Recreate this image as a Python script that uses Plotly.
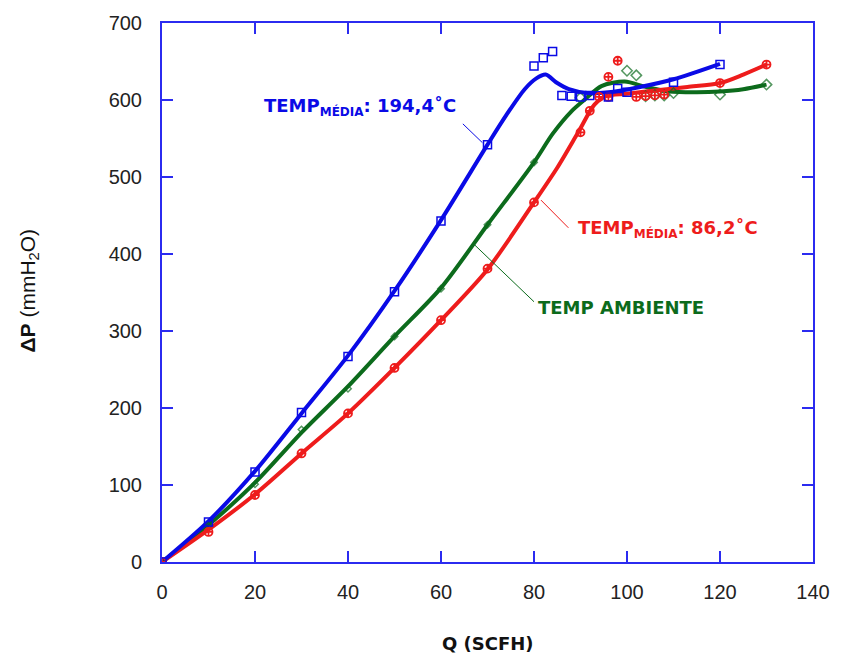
import plotly.graph_objects as go

# ---- data ----
# smooth (measured) curves
q_blue_curve = [0, 10, 20, 30, 40, 50, 60, 70, 74, 78, 80.5, 82.5, 85, 87.5, 91.5, 96, 102, 110, 120]
dp_blue_curve = [0, 53, 118, 193, 268, 352, 444, 542, 580, 614, 628, 633, 622, 614, 609, 610, 616, 627, 647]

q_red_curve = [0, 10, 20, 30, 40, 50, 60, 70, 80, 85, 89.5, 93, 95.5, 100, 107, 113, 120, 125, 130]
dp_red_curve = [0, 42, 88, 141, 193, 252, 314, 380, 467, 512, 558, 594, 605, 608, 613, 617, 622, 633, 646]

q_green_curve = [0, 10, 20, 30, 40, 50, 60, 70, 80, 84, 88, 91, 94.5, 99.5, 104, 109, 115, 120, 125, 130]
dp_green_curve = [0, 48, 103, 168, 228, 293, 356, 438, 519, 556, 585, 601, 618, 624, 617, 611, 610, 611, 614, 620]

# discrete points
q_blue_pts = [0, 10, 20, 30, 40, 50, 60, 70, 80, 82, 84, 86, 88, 90, 92, 96, 98, 100, 110, 120]
dp_blue_pts = [0, 52, 117, 194, 267, 351, 443, 542, 644, 655, 663, 606, 605, 604, 606, 604, 615, 610, 623, 646]

q_red_pts = [0, 10, 20, 30, 40, 50, 60, 70, 80, 90, 92, 94, 96, 96, 98, 102, 104, 106, 108, 120, 130]
dp_red_pts = [0, 39, 87, 141, 193, 252, 314, 381, 467, 558, 586, 604, 630, 604, 651, 604, 605, 606, 607, 622, 646]

q_green_pts = [0, 10, 20, 30, 40, 50, 60, 70, 80, 90, 100, 102, 104, 106, 108, 110, 120, 130]
dp_green_pts = [0, 47, 101, 172, 225, 293, 355, 438, 519, 603, 638, 632, 605, 606, 606, 609, 607, 620]

x_ticks = [0, 20, 40, 60, 80, 100, 120, 140]
y_ticks = [0, 100, 200, 300, 400, 500, 600, 700]

BLUE = "#0a0ae6"
RED = "#ee1c1c"
GREEN = "#0c6b1c"
AXIS = "#2b2bf0"

fig = go.Figure()

for q, dp, col in [(q_green_curve, dp_green_curve, GREEN),
                   (q_red_curve, dp_red_curve, RED),
                   (q_blue_curve, dp_blue_curve, BLUE)]:
    fig.add_trace(go.Scatter(x=q, y=dp, mode="lines",
                             line=dict(color=col, width=4, shape="spline", smoothing=0.8),
                             showlegend=False, hoverinfo="skip"))

green_sizes = [5 if q <= 80 else 8 for q in q_green_pts]
fig.add_trace(go.Scatter(x=q_green_pts, y=dp_green_pts, mode="markers",
                         marker=dict(symbol="diamond-open", size=green_sizes, color=GREEN, line=dict(width=1.5)),
                         showlegend=False))
fig.add_trace(go.Scatter(x=q_red_pts, y=dp_red_pts, mode="markers",
                         marker=dict(symbol="circle-cross-open", size=8, color=RED, line=dict(width=1.8)),
                         showlegend=False))
fig.add_trace(go.Scatter(x=q_blue_pts, y=dp_blue_pts, mode="markers",
                         marker=dict(symbol="square-open", size=8, color=BLUE, line=dict(width=1.5)),
                         showlegend=False))

# leader lines
fig.add_shape(type="line", x0=64.7, y0=569, x1=68.9, y1=544.6, line=dict(color=BLUE, width=1))
fig.add_shape(type="line", x0=81.5, y0=470, x1=87.4, y1=434, line=dict(color=RED, width=1))
fig.add_shape(type="line", x0=67.2, y0=412, x1=80.0, y1=338, line=dict(color=GREEN, width=1))

ann_font = "DejaVu Sans, Verdana, sans-serif"
tick_font = "Liberation Sans, Arial, sans-serif"
fig.add_annotation(x=21.5, y=591, xref="x", yref="y", xanchor="left", yanchor="middle",
                   text="<b>TEMP<sub><span style='font-size:12px'>MÉDIA</span></sub>: 194,4˚C</b>",
                   showarrow=False, font=dict(family=ann_font, size=18, color=BLUE))
fig.add_annotation(x=89.1, y=432, xref="x", yref="y", xanchor="left", yanchor="middle",
                   text="<b>TEMP<sub><span style='font-size:12px'>MÉDIA</span></sub>: 86,2˚C</b>",
                   showarrow=False, font=dict(family=ann_font, size=18, color=RED))
fig.add_annotation(x=80.4, y=331, xref="x", yref="y", xanchor="left", yanchor="middle",
                   text="<b>TEMP AMBIENTE</b>",
                   showarrow=False, font=dict(family=ann_font, size=18, color=GREEN))

# axis titles (paper coords are relative to the plotting area: 658 x 546 px)
fig.add_annotation(x=0.5, y=-0.152, xref="paper", yref="paper",
                   xanchor="center", yanchor="middle", showarrow=False,
                   text="<b>Q (SCFH)</b>", font=dict(family=ann_font, size=18, color="#111111"))
fig.add_annotation(x=-0.204, y=0.504, xref="paper", yref="paper",
                   xanchor="center", yanchor="middle", showarrow=False, textangle=-90,
                   text="<b>ΔP</b> (mmH<sub>2</sub>O)", font=dict(family=tick_font, size=21, color="#111111"))

axis_common = dict(showline=True, linecolor=AXIS, linewidth=2, mirror="ticks",
                   ticks="inside", ticklen=11, tickwidth=1.5, tickcolor=AXIS,
                   showgrid=False, zeroline=False,
                   tickfont=dict(family=tick_font, size=20, color="#222222"))

fig.update_xaxes(range=[0, 140], tickvals=x_ticks, ticktext=[str(v) for v in x_ticks],
                 ticklabelstandoff=11, **axis_common)
fig.update_yaxes(range=[0, 700], tickvals=y_ticks, ticktext=[str(v) for v in y_ticks],
                 ticklabelstandoff=14, **axis_common)

fig.update_layout(width=842, height=658,
                  margin=dict(l=162, r=22, t=16, b=96),
                  paper_bgcolor="white", plot_bgcolor="white",
                  showlegend=False)

fig.write_html("out.html", config={"displayModeBar": False},
               post_script="document.body.style.margin='0';document.body.style.padding='0';")
